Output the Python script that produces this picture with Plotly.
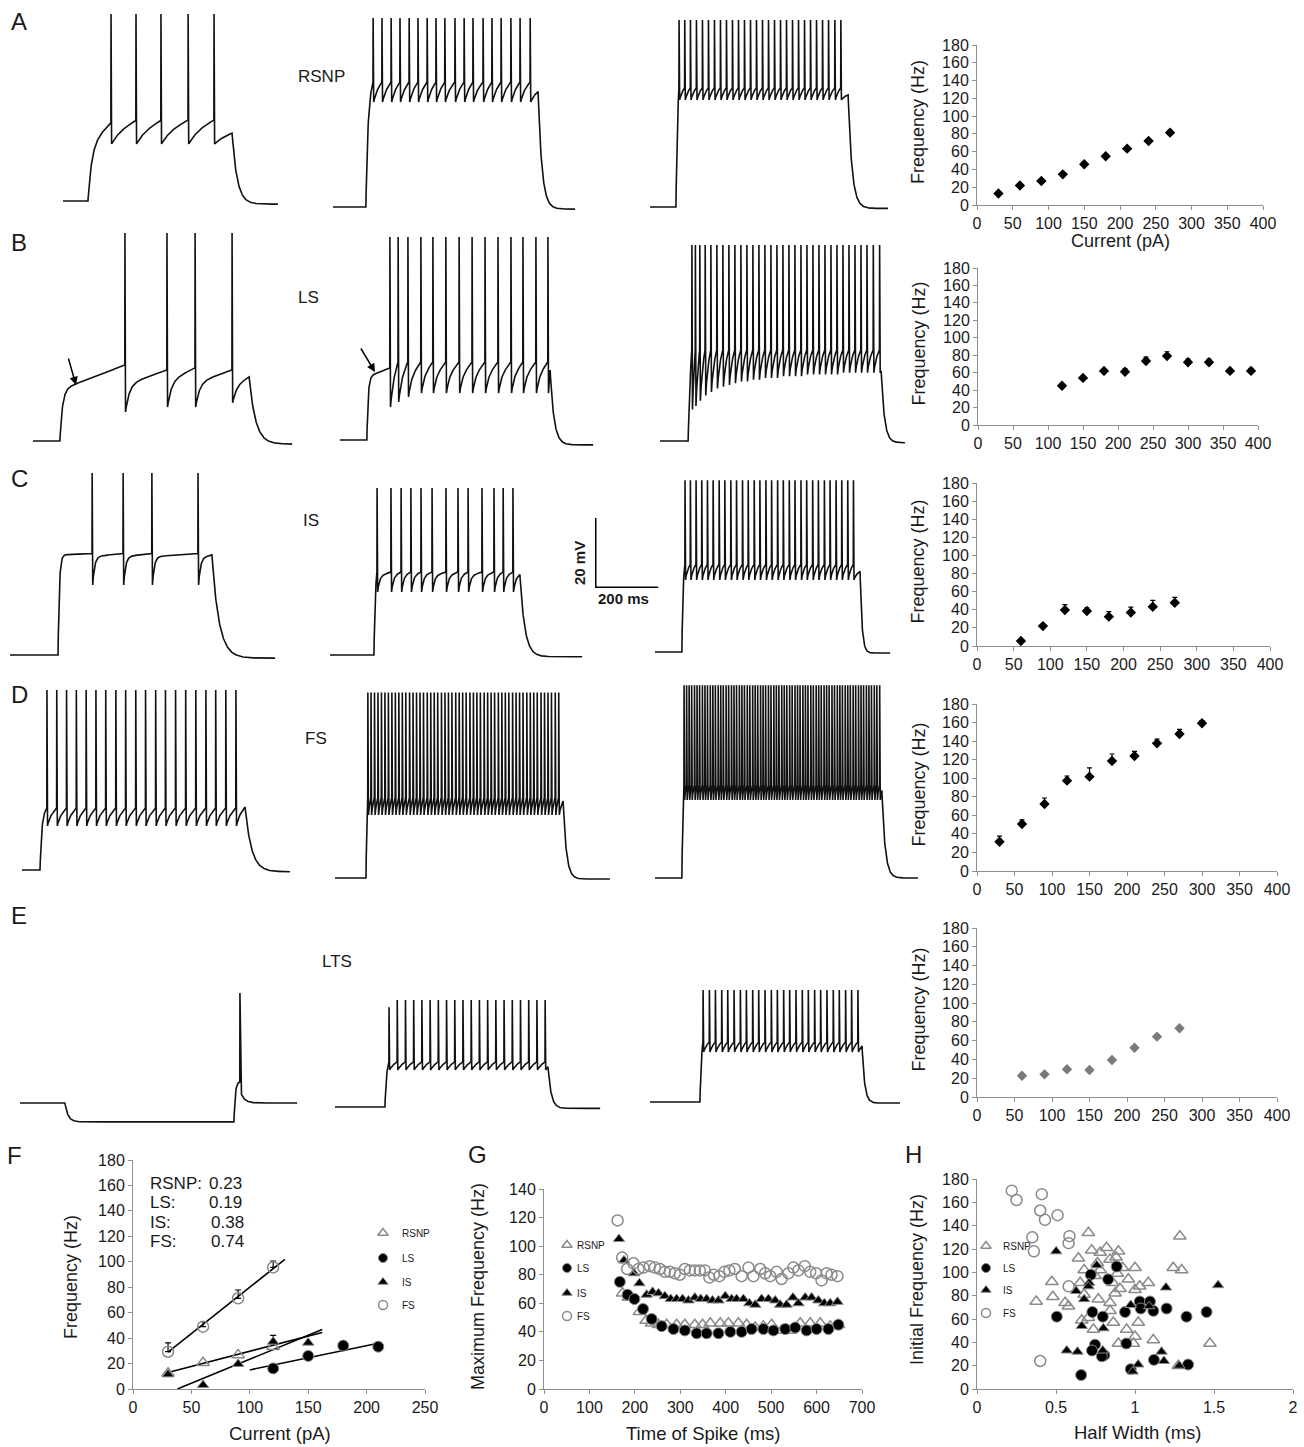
import numpy as np
import plotly.graph_objects as go

W, H = 1304, 1447
FONT = "Liberation Sans, Arial, sans-serif"
KX = 0.316   # px per ms  (200 ms scale bar ~ 63 px)
KY = 3.5     # px per mV  (20 mV scale bar ~ 70 px)
TXT = "#1a1a1a"
AXC = "#8f8f8f"
GRAY = "#8a8a8a"

# ---------------- F-I curves (right column, A-E) ----------------
fiA_I = [30, 60, 90, 120, 150, 180, 210, 240, 270]
fiA_F = [13, 22, 27, 34.5, 45.8, 54.8, 63.4, 72, 81.4]
fiA_E = [1.5, 1.5, 1.5, 1.5, 1.5, 1.5, 1.5, 2, 2.5]

fiB_I = [120, 150, 180, 210, 240, 270, 300, 330, 360, 390]
fiB_F = [45, 54, 62, 61, 73.4, 79, 72, 72, 62, 62]
fiB_E = [1.5, 1.5, 1.5, 3.5, 4.5, 5, 3.5, 3.5, 1.5, 3]

fiC_I = [60, 90, 120, 150, 180, 210, 240, 270]
fiC_F = [5.5, 22, 39.8, 38.6, 32.4, 37, 43.4, 47.8]
fiC_E = [0.5, 1.5, 6, 3.5, 5.5, 6, 7, 6]

fiD_I = [30, 60, 90, 120, 150, 180, 210, 240, 270, 300]
fiD_F = [31.6, 50.7, 72.2, 97.4, 101.7, 118.6, 124, 137.6, 147.7, 159.2]
fiD_E = [6, 4.5, 6.5, 5, 9.5, 7.5, 5, 4.5, 5, 3]

fiE_I = [60, 90, 120, 150, 180, 210, 240, 270]
fiE_F = [22.7, 24.1, 29.5, 28.8, 39.4, 52.5, 64.3, 73.2]

# ---------------- Panel F ----------------
F_FS_I = [30, 60, 90, 120]
F_FS_F = [29.3, 49, 71.3, 95.6]
F_FS_E = [7, 4, 6.5, 5]
F_RSNP_I = [30, 60, 90, 120]
F_RSNP_F = [12.3, 20.7, 26.8, 33.3]
F_IS_I = [30, 60, 90, 120, 150]
F_IS_F = [11.5, 3.1, 19.7, 37.2, 36.4]
F_IS_E = [0, 0, 0, 5, 0]
F_LS_I = [120, 150, 180, 210]
F_LS_F = [16.2, 26, 34.1, 33.3]
fit_x0 = [30, 30, 38, 100]
fit_x1 = [130, 162, 162, 210]
fit_slope = [0.73, 0.238, 0.377, 0.19]
fit_icpt = [7.0, 5.9, -14.3, -4.0]
slope_names = ["RSNP:", "LS:", "IS:", "FS:"]
slope_vals = ["0.23", "0.19", "0.38", "0.74"]

# ---------------- Panel G ----------------
G_RSNP_t = [173, 186, 210, 225, 237, 252, 270, 292, 310, 332, 349, 366, 388, 406, 428, 446, 465, 483, 501, 523, 542, 564, 586, 608, 630, 648]
G_RSNP_f = [67, 64, 54, 48, 46, 45, 45, 45, 45, 45, 45, 46, 46, 46, 46, 45, 43, 44, 45, 41, 41, 46, 46, 46, 44, 45]
G_LS_t = [167, 184, 199, 218, 237, 259, 285, 310, 336, 358, 384, 410, 435, 457, 483, 505, 531, 553, 578, 600, 626, 648]
G_LS_f = [75, 66, 63, 56, 49, 44, 42, 41, 39, 39, 39, 40, 40, 42, 42, 41, 42, 43, 41, 42, 42, 45]
G_IS_t = [165, 176, 198, 210, 226, 239, 252, 266, 279, 292, 305, 318, 332, 345, 358, 371, 384, 399, 413, 424,
          439, 452, 465, 479, 494, 509, 520, 534, 548, 560, 575, 589, 604, 617, 630, 646]
G_IS_f = [105, 90, 81, 74, 66, 68, 67, 65, 63, 63, 63, 62, 64, 63, 63, 62, 62, 65, 63, 63,
          63, 60, 59, 63, 63, 62, 59, 59, 64, 60, 64, 64, 62, 60, 60, 61]
G_FS_t = [162, 172, 183, 197, 208, 219, 233, 244, 255, 266, 277, 288, 299, 310, 321, 332, 343, 354, 364, 374,
          386, 397, 408, 420, 435, 450, 461, 476, 487, 498, 512, 523, 538, 549, 560, 574, 586, 599, 611, 622, 633, 646]
G_FS_f = [118, 92, 84, 88, 84, 85, 86, 85, 84, 82, 82, 81, 80, 84, 83, 83, 83, 83, 78, 80,
          79, 82, 83, 84, 79, 85, 79, 84, 81, 79, 82, 77, 81, 85, 83, 86, 82, 81, 76, 81, 80, 79]

# ---------------- Panel H ----------------
H_FS_w = [0.22, 0.25, 0.40, 0.41, 0.43, 0.51, 0.585, 0.58, 0.35, 0.36, 0.58, 0.40]
H_FS_f = [170, 162, 153, 167, 145, 149, 131, 125, 130, 118, 88, 24]
H_RSNP_w = [0.705, 1.284, 0.726, 0.78, 0.82, 0.895, 0.842, 0.88, 0.642, 0.678, 0.762, 0.78, 0.922, 1.0, 1.242, 1.295,
            0.474, 0.653, 0.747, 0.859, 0.888, 0.958, 1.03, 1.084, 0.48, 0.375, 0.558, 0.579, 0.678, 0.768, 0.842,
            0.874, 0.905, 1.0, 0.663, 0.705, 0.737, 0.842, 0.863, 0.947, 1.021, 0.895, 0.99, 1.0, 1.116, 1.474, 1.274]
H_RSNP_f = [134, 131, 119, 117, 121, 118, 111, 113, 112, 102, 108, 102, 104, 104, 104, 102, 92, 91, 97, 91, 99, 94,
            88, 91, 79, 75, 74, 71, 81, 77, 74, 82, 86, 85, 59, 61, 51, 67, 57, 51, 57, 39, 39, 45, 42, 39, 20]
H_LS_w = [0.72, 0.83, 0.884, 0.505, 0.73, 0.796, 0.937, 1.03, 1.095, 1.036, 1.116, 1.2, 1.326, 1.453, 0.747, 0.728,
          0.806, 0.945, 0.659, 0.973, 1.12, 1.336, 0.79]
H_LS_f = [98, 94, 105, 62, 66, 62, 66, 75, 75, 69, 67, 69, 62, 66, 38, 33, 29, 39, 12, 17, 25, 21, 28]
H_IS_w = [0.501, 0.758, 0.71, 0.627, 0.678, 0.705, 0.663, 0.8, 0.568, 0.636, 0.796, 1.196, 1.526, 1.09, 0.973,
          1.02, 0.985, 1.168, 1.183, 1.28]
H_IS_f = [118, 106, 91, 84, 77, 88, 54, 52, 33, 32, 33, 87, 89, 71, 72, 21, 15, 32, 24, 20]

# ---------------- Voltage traces (ms, mV) ----------------
spk_A1 = [152, 231, 310, 396, 478]
spk_A2 = [127, 155, 184, 212, 241, 269, 298, 326, 354, 386, 415, 443, 475, 503, 532, 563, 592, 624]
spk_A3 = [92, 110, 128, 147, 166, 185, 204, 223, 242, 261, 280, 299, 318, 337, 356, 375, 394, 413, 432, 451,
          470, 489, 508, 527, 546, 565, 585, 604]
spk_B1 = [291, 424, 513, 630]
spk_B2 = [158, 184, 215, 256, 294, 335, 377, 418, 459, 500, 541, 579, 620, 658]
spk_B3 = [101, 112, 126, 143, 161, 180, 199, 218, 237, 256, 275, 294, 313, 332, 351, 370, 389, 408, 427, 446,
          465, 484, 503, 522, 541, 560, 579, 598, 617, 636, 655, 675, 695]
ahp_B3 = [-61, -60, -58.5, -57, -56, -55, -54.5, -54, -53.5, -53, -53, -52.5, -52.5, -52, -52, -52, -51.5,
          -51.5, -51.5, -51.5, -51, -51, -51, -51, -51, -51, -50.5, -50.5, -50.5, -50.5, -50.5, -50.5, -50.5]
spk_C1 = [260, 358, 449, 595]
spk_C2 = [149, 193, 225, 256, 288, 323, 367, 405, 437, 481, 519, 548, 579]
spk_C3 = [95, 112, 130, 148, 166, 184, 203, 221, 240, 258, 277, 295, 314, 332, 351, 369, 388, 406, 425, 443,
          462, 480, 499, 517, 536, 554, 573, 591, 610, 628]
spk_D1 = [79, 110, 141, 172, 203, 234, 265, 297, 328, 360, 391, 423, 454, 486, 518, 550, 582, 613, 645, 677]
spk_D2 = [104, 114, 125, 136, 147, 158, 169, 180, 191, 202, 213, 224, 236, 247, 258, 269, 280, 292, 303, 314,
          325, 337, 348, 359, 370, 382, 393, 404, 415, 427, 438, 449, 460, 472, 483, 494, 505, 517, 528, 539,
          550, 562, 573, 584, 595, 607, 618, 629, 640, 652, 663, 674, 685, 697, 708]
spk_D3 = [92, 100, 108, 116, 125, 133, 141, 150, 158, 166, 175, 183, 191, 200, 208, 216, 225, 233, 242, 250,
          258, 267, 275, 283, 292, 300, 309, 317, 325, 334, 342, 350, 359, 367, 376, 384, 392, 401, 409, 417,
          426, 434, 443, 451, 459, 468, 476, 484, 493, 501, 510, 518, 526, 535, 543, 551, 560, 568, 577, 585,
          593, 602, 610, 618, 627, 635, 644, 652, 660, 669, 677, 685, 694, 702, 711]
spk_E2 = [171, 197, 223, 249, 275, 301, 327, 353, 379, 405, 431, 457, 483, 509, 535, 561, 587, 613, 639, 665]
spk_E3 = [168, 188, 207, 227, 246, 266, 286, 305, 325, 344, 364, 384, 403, 423, 442, 462, 482, 501, 521, 540,
          560, 580, 599, 619, 638, 658]

tr_A1 = dict(on=79, off=535, end=680, rest=-70, rest_end=-70.9, plat=-54, tau_on=12, spikes=spk_A1, peak=-16.6,
             thr=[-47.7, -47, -47, -46.9, -46.9], ahp=-53.7, tau_rec=30, lin=0.5, tail=-50.6, tau_off=16)
tr_A2 = dict(on=104, off=649, end=766, rest=-70, rest_end=-70.6, plat=-39.4, tau_on=6, spikes=spk_A2, peak=-16,
             thr=-34.3, ahp=-40, tau_rec=10, lin=0.5, tail=-37, tau_off=12)
tr_A3 = dict(on=82, off=627, end=753, rest=-70, rest_end=-70.4, plat=-38, tau_on=5, spikes=spk_A3, peak=-16.6,
             thr=-36, ahp=-39.4, tau_rec=6, lin=0.5, tail=-38, tau_off=12)
tr_B1 = dict(on=85, off=684, end=820, rest=-70, rest_end=-70.9, plat=-55.4, tau_on=8, spikes=spk_B1, peak=-10.6,
             thr=[-48.3, -49.7, -49.1, -49.7], ahp=[-61.7, -60.3, -60.3, -59.1], tau_rec=12, lin=0.35,
             tail=-51.7, tau_off=20)
tr_B2 = dict(on=85, off=665, end=801, rest=-70, rest_end=-71.4, plat=-52, tau_on=4, spikes=spk_B2, peak=-12,
             thr=[-49.4] + [-47.7] * 13, ahp=[-60.6, -59.1, -57.7] + [-56.6] * 11, tau_rec=8, lin=0.5,
             tail=-50, tau_off=12)
tr_B3 = dict(on=89, off=700, end=775, rest=-70, rest_end=-70.5, plat=-58.3, tau_on=4, spikes=spk_B3, peak=-14,
             thr=-44, ahp=ahp_B3, tau_rec=5, lin=0.5, tail=-50, tau_off=10)
tr_C1 = dict(on=152, off=639, end=839, rest=-70, rest_end=-70.9, plat=-41.4, tau_on=4, spikes=spk_C1, peak=-18,
             thr=-41, ahp=-50, tau_rec=6, lin=0.1, tail=-41.4, tau_off=22)
tr_C2 = dict(on=139, off=601, end=798, rest=-70, rest_end=-70.5, plat=-47.1, tau_on=4, spikes=spk_C2, peak=-22.3,
             thr=-46.3, ahp=-52, tau_rec=6, lin=0.2, tail=-47, tau_off=15)
tr_C3 = dict(on=85, off=649, end=744, rest=-70, rest_end=-70.3, plat=-48, tau_on=3, spikes=spk_C3, peak=-20.9,
             thr=-45, ahp=-49.4, tau_rec=4, lin=0.5, tail=-47, tau_off=6)
tr_D1 = dict(on=57, off=706, end=848, rest=-70, rest_end=-70.5, plat=-54.3, tau_on=5, spikes=spk_D1, peak=-18.6,
             thr=-52.3, ahp=-57.4, tau_rec=6, lin=0.6, tail=-52, tau_off=20)
tr_D2 = dict(on=98, off=722, end=870, rest=-70, rest_end=-70.3, plat=-49, tau_on=3, spikes=spk_D2, peak=-17,
             thr=-47, ahp=-52, tau_rec=4, lin=0.5, tail=-48, tau_off=10)
tr_D3 = dict(on=85, off=718, end=832, rest=-70, rest_end=-70, plat=-46, tau_on=3, spikes=spk_D3, peak=-14.9,
             thr=-43.4, ahp=-47.7, tau_rec=3, lin=0.5, tail=-45, tau_off=10)
tr_E1 = dict(on=142, off=677, end=877, rest=-70, rest_end=-70, plat=-75.4, tau_on=10, spikes=[], peak=-38.6,
             thr=-64, ahp=-67, tau_rec=4, lin=0, tail=-75.4, tau_off=12, reb_t=696)
tr_E2 = dict(on=158, off=674, end=839, rest=-70, rest_end=-70.4, plat=-59.4, tau_on=4, spikes=spk_E2,
             peak=[-41.5] + [-39.4] * 19, thr=-57.1, ahp=-59.4, tau_rec=8, lin=0.6, tail=-58.5, tau_off=10)
tr_E3 = dict(on=158, off=671, end=791, rest=-70, rest_end=-70.3, plat=-55.1, tau_on=4, spikes=spk_E3, peak=-38,
             thr=-52.9, ahp=-55.7, tau_rec=5, lin=0.6, tail=-54, tau_off=8)

# trace placement (left edge px, resting baseline px) -- layout only
trace_rows = [
    [(tr_A1, 63, 201), (tr_A2, 333, 207), (tr_A3, 650, 207)],
    [(tr_B1, 33, 441), (tr_B2, 340, 440), (tr_B3, 660, 441)],
    [(tr_C1, 10, 655), (tr_C2, 330, 655), (tr_C3, 655, 652)],
    [(tr_D1, 22, 870), (tr_D2, 335, 878), (tr_D3, 655, 878)],
    [(tr_E1, 20, 1103), (tr_E2, 335, 1107), (tr_E3, 650, 1102)],
]


def sval(x, i):
    return x[i] if isinstance(x, (list, tuple)) else x


def build_trace(p, rise=0.5, fall=1.8, dt=0.8):
    T, V = [0.0], [p['rest']]
    on, off, end = p['on'], p['off'], p['end']
    sp = p['spikes']
    n = len(sp)
    t_first = sp[0] - rise if n else off
    goal0 = sval(p['thr'], 0) if n else p['plat']
    seg = np.append(np.arange(on, t_first, dt), t_first)
    nat = p['rest'] + (p['plat'] - p['rest']) * (1 - np.exp(-(seg - on) / p['tau_on']))
    corr = (goal0 - nat[-1]) * (seg - on) / max(t_first - on, 1e-9)
    T += list(seg)
    V += list(nat + corr)
    for i, ts in enumerate(sp):
        a = sval(p['ahp'], i)
        T += [ts, ts + fall]
        V += [sval(p['peak'], i), a]
        t0 = ts + fall
        if i < n - 1:
            t1 = sp[i + 1] - rise
            goal = sval(p['thr'], i + 1)
        else:
            t1 = off
            goal = p['tail']
        if t1 <= t0:
            continue
        seg = np.append(np.arange(t0 + dt, t1, dt), t1)
        s = seg - t0
        Tn = t1 - t0
        tau = p['tau_rec']
        fast = (1 - np.exp(-s / tau)) / (1 - np.exp(-Tn / tau))
        g = (1 - p['lin']) * fast + p['lin'] * s / Tn
        T += list(seg)
        V += list(a + (goal - a) * g)
    v_off = V[-1]
    re = p['rest_end']
    if 'reb_t' in p:
        tr = p['reb_t']
        t1 = tr - rise
        seg = np.append(np.arange(off + dt, t1, dt), t1)
        s = seg - off
        fast = (1 - np.exp(-s / 4.0)) / (1 - np.exp(-(t1 - off) / 4.0))
        T += list(seg)
        V += list(v_off + (p['thr'] - v_off) * fast)
        T += [tr, tr + 2.5]
        V += [p['peak'], p['ahp']]
        t0 = tr + 2.5
        seg = np.append(np.arange(t0 + dt, end, dt), end)
        T += list(seg)
        V += list(re + (p['ahp'] - re) * np.exp(-(seg - t0) / p['tau_off']))
    else:
        seg = np.append(np.arange(off + dt, end, dt), end)
        T += list(seg)
        V += list(re + (v_off - re) * np.exp(-(seg - off) / p['tau_off']))
    return T, V


fig = go.Figure()
layout = dict(width=W, height=H, autosize=False, margin=dict(l=0, r=0, t=0, b=0, pad=0),
              paper_bgcolor='white', plot_bgcolor='rgba(0,0,0,0)', showlegend=False,
              font=dict(family=FONT, color=TXT, size=14))
annotations = []
axn = [0]


def add_axes(left, right, top, bottom, xr, yr, visible=False, xdtick=None, ydtick=None, tick=16):
    axn[0] += 1
    k = axn[0]
    sx = '' if k == 1 else str(k)
    common = dict(showgrid=False, zeroline=False, fixedrange=True, automargin=False)
    if visible:
        st = dict(showline=True, linecolor=AXC, linewidth=1, ticks='outside', ticklen=4, tickcolor=AXC,
                  tickwidth=1, tickfont=dict(size=tick, color=TXT, family=FONT))
    else:
        st = dict(visible=False)
    xa = dict(domain=[left / W, right / W], range=xr, anchor='y' + sx, **common, **st)
    ya = dict(domain=[1 - bottom / H, 1 - top / H], range=yr, anchor='x' + sx, **common, **st)
    if xdtick:
        xa.update(dtick=xdtick, tick0=0)
    if ydtick:
        ya.update(dtick=ydtick, tick0=0)
    layout['xaxis' + sx] = xa
    layout['yaxis' + sx] = ya
    return 'x' + sx, 'y' + sx


def ann(text, x, y, size, xanchor='center', yanchor='middle', angle=0, bold=False):
    if bold:
        text = '<b>' + text + '</b>'
    annotations.append(dict(text=text, x=x / W, y=1 - y / H, xref='paper', yref='paper', showarrow=False,
                            xanchor=xanchor, yanchor=yanchor, textangle=angle,
                            font=dict(size=size, color=TXT, family=FONT)))


# ---- voltage traces ----
for row in trace_rows:
    for p, left, base in row:
        bottom = base + 10 * KY
        top = max(bottom - 260, 0)
        xa, ya = add_axes(left, left + 320, top, bottom, [0, 320 / KX], [-80, -80 + (bottom - top) / KY])
        t, v = build_trace(p)
        fig.add_trace(go.Scatter(x=t, y=v, mode='lines', line=dict(color='#111111', width=1.6),
                                 xaxis=xa, yaxis=ya, hoverinfo='skip'))

# ---- scale bar ----
bar_ms = 200
bar_mv = 20
xa, ya = add_axes(595, 695, 488, 588, [0, 100 / KX], [0, 100 / KY])
fig.add_trace(go.Scatter(x=[0, 0, bar_ms], y=[bar_mv, 0, 0], mode='lines', line=dict(color='black', width=3),
                         xaxis=xa, yaxis=ya, hoverinfo='skip'))
ann('20 mV', 579, 563, 15, angle=-90, bold=True)
ann('200 ms', 623, 598, 15, bold=True)

# ---- F-I panels ----
fi_specs = [
    (fiA_I, fiA_F, fiA_E, 'black', (977, 1263, 45, 205)),
    (fiB_I, fiB_F, fiB_E, 'black', (978, 1258, 268, 425)),
    (fiC_I, fiC_F, fiC_E, 'black', (977, 1270, 483, 646)),
    (fiD_I, fiD_F, fiD_E, 'black', (977, 1277, 704, 871)),
    (fiE_I, fiE_F, None, '#7a7a7a', (977, 1277, 928, 1097)),
]
for I, Fq, E, col, (l, r, t, b) in fi_specs:
    xa, ya = add_axes(l, r, t, b, [0, 400], [0, 180], visible=True, xdtick=50, ydtick=20)
    err = None
    if E is not None:
        err = dict(type='data', symmetric=False, array=E, arrayminus=[0] * len(E), color='black',
                   thickness=1.2, width=2.5)
    fig.add_trace(go.Scatter(x=I, y=Fq, mode='markers', error_y=err,
                             marker=dict(symbol='diamond', size=8, color=col), xaxis=xa, yaxis=ya,
                             hoverinfo='skip'))
    ann('Frequency (Hz)', 918, (t + b) / 2 - 3, 18, angle=-90)
ann('Current (pA)', 1120, 241, 18)

# ---- marker styles ----
STY = {
    'RSNP': dict(symbol='triangle-up-open', color=GRAY, size=11, line=dict(color=GRAY, width=1.5)),
    'LS': dict(symbol='circle', color='black', size=11, line=dict(color=GRAY, width=1)),
    'IS': dict(symbol='triangle-up', color='black', size=10, line=dict(color=GRAY, width=1)),
    'FS': dict(symbol='circle-open', color=GRAY, size=11, line=dict(color=GRAY, width=1.5)),
}

# ---- Panel F ----
xa, ya = add_axes(133, 425, 1160, 1389, [0, 250], [0, 180], visible=True, xdtick=50, ydtick=20)
for x0, x1, m, c in zip(fit_x0, fit_x1, fit_slope, fit_icpt):
    fig.add_trace(go.Scatter(x=[x0, x1], y=[m * x0 + c, m * x1 + c], mode='lines',
                             line=dict(color='black', width=1.6), xaxis=xa, yaxis=ya, hoverinfo='skip'))
fig.add_trace(go.Scatter(x=F_RSNP_I, y=F_RSNP_F, mode='markers', marker=STY['RSNP'], xaxis=xa, yaxis=ya))
fig.add_trace(go.Scatter(x=F_LS_I, y=F_LS_F, mode='markers', marker=STY['LS'], xaxis=xa, yaxis=ya))
fig.add_trace(go.Scatter(x=F_IS_I, y=F_IS_F, mode='markers', marker=STY['IS'], xaxis=xa, yaxis=ya,
                         error_y=dict(type='data', symmetric=False, array=F_IS_E, arrayminus=[0] * len(F_IS_E),
                                      color='black', thickness=1.2, width=3)))
fig.add_trace(go.Scatter(x=F_FS_I, y=F_FS_F, mode='markers', marker=STY['FS'], xaxis=xa, yaxis=ya,
                         error_y=dict(type='data', symmetric=False, array=F_FS_E, arrayminus=[0] * len(F_FS_E),
                                      color='black', thickness=1.2, width=3)))
for i, (nm, vl) in enumerate(zip(slope_names, slope_vals)):
    yy = 1183 + i * 19.5
    ann(nm, 148, yy, 17, xanchor='left')
    ann(vl, 207 + (2 if i >= 2 else 0), yy, 17, xanchor='left')
ann('Frequency (Hz)', 71, 1277, 18, angle=-90)
ann('Current (pA)', 280, 1433, 18.5)

# ---- Panel G ----
xa, ya = add_axes(544, 862, 1189, 1389, [0, 700], [0, 140], visible=True, xdtick=100, ydtick=20)
fig.add_trace(go.Scatter(x=G_RSNP_t, y=G_RSNP_f, mode='markers', marker=STY['RSNP'], xaxis=xa, yaxis=ya))
fig.add_trace(go.Scatter(x=G_LS_t, y=G_LS_f, mode='markers', marker=STY['LS'], xaxis=xa, yaxis=ya))
fig.add_trace(go.Scatter(x=G_IS_t, y=G_IS_f, mode='markers', marker=STY['IS'], xaxis=xa, yaxis=ya))
fig.add_trace(go.Scatter(x=G_FS_t, y=G_FS_f, mode='markers', marker=STY['FS'], xaxis=xa, yaxis=ya))
ann('Maximum Frequency (Hz)', 478, 1287, 18, angle=-90)
ann('Time of Spike (ms)', 703, 1433, 18.5)

# ---- Panel H ----
xa, ya = add_axes(977, 1293, 1179, 1389, [0, 2], [0, 180], visible=True, xdtick=0.5, ydtick=20)
fig.add_trace(go.Scatter(x=H_RSNP_w, y=H_RSNP_f, mode='markers', marker=STY['RSNP'], xaxis=xa, yaxis=ya))
fig.add_trace(go.Scatter(x=H_LS_w, y=H_LS_f, mode='markers', marker=STY['LS'], xaxis=xa, yaxis=ya))
fig.add_trace(go.Scatter(x=H_IS_w, y=H_IS_f, mode='markers', marker=STY['IS'], xaxis=xa, yaxis=ya))
fig.add_trace(go.Scatter(x=H_FS_w, y=H_FS_f, mode='markers', marker=STY['FS'], xaxis=xa, yaxis=ya))
ann('Initial Frequency (Hz)', 917, 1280, 18, angle=-90)
ann('Half Width (ms)', 1137, 1432, 18.5)

# ---- manual legends (overlay axis in pixel units) ----
xa, ya = add_axes(0, W, 0, H, [0, W], [H, 0])
legend_types = ['RSNP', 'LS', 'IS', 'FS']
legend_boxes = [(383, 400, [1233, 1258, 1282, 1305]),
                (567, 575, [1245, 1268, 1293, 1316]),
                (986, 1001, [1246, 1268, 1290, 1313])]
for mx, tx, ys in legend_boxes:
    for typ, yy in zip(legend_types, ys):
        st = dict(STY[typ])
        st['size'] = 9
        fig.add_trace(go.Scatter(x=[mx], y=[yy], mode='markers', marker=st, xaxis=xa, yaxis=ya,
                                 hoverinfo='skip'))
        ann(typ, tx, yy, 10, xanchor='left')

# ---- arrows in B ----
for (hx, hy, tx_, ty_) in [(76, 385, 68, 357), (375, 372, 360, 347)]:
    annotations.append(dict(x=hx / W, y=1 - hy / H, xref='paper', yref='paper', ax=tx_ - hx, ay=ty_ - hy,
                            axref='pixel', ayref='pixel', showarrow=True, arrowhead=2, arrowsize=1.1,
                            arrowwidth=1.5, arrowcolor='black', text=''))

# ---- panel letters and cell-type labels ----
for L, x, y in [('A', 19, 21), ('B', 19, 242), ('C', 19, 478), ('D', 19, 694), ('E', 19, 915),
                ('F', 14, 1155), ('G', 477, 1154), ('H', 913, 1154)]:
    ann(L, x, y, 24)
for L, x, y in [('RSNP', 321, 77), ('LS', 308, 297), ('IS', 311, 520), ('FS', 316, 738), ('LTS', 337, 961)]:
    ann(L, x, y, 17)

layout['annotations'] = annotations
fig.update_layout(**layout)
fig.write_html("out.html", config={'displayModeBar': False},
               post_script="document.body.style.margin='0';")
